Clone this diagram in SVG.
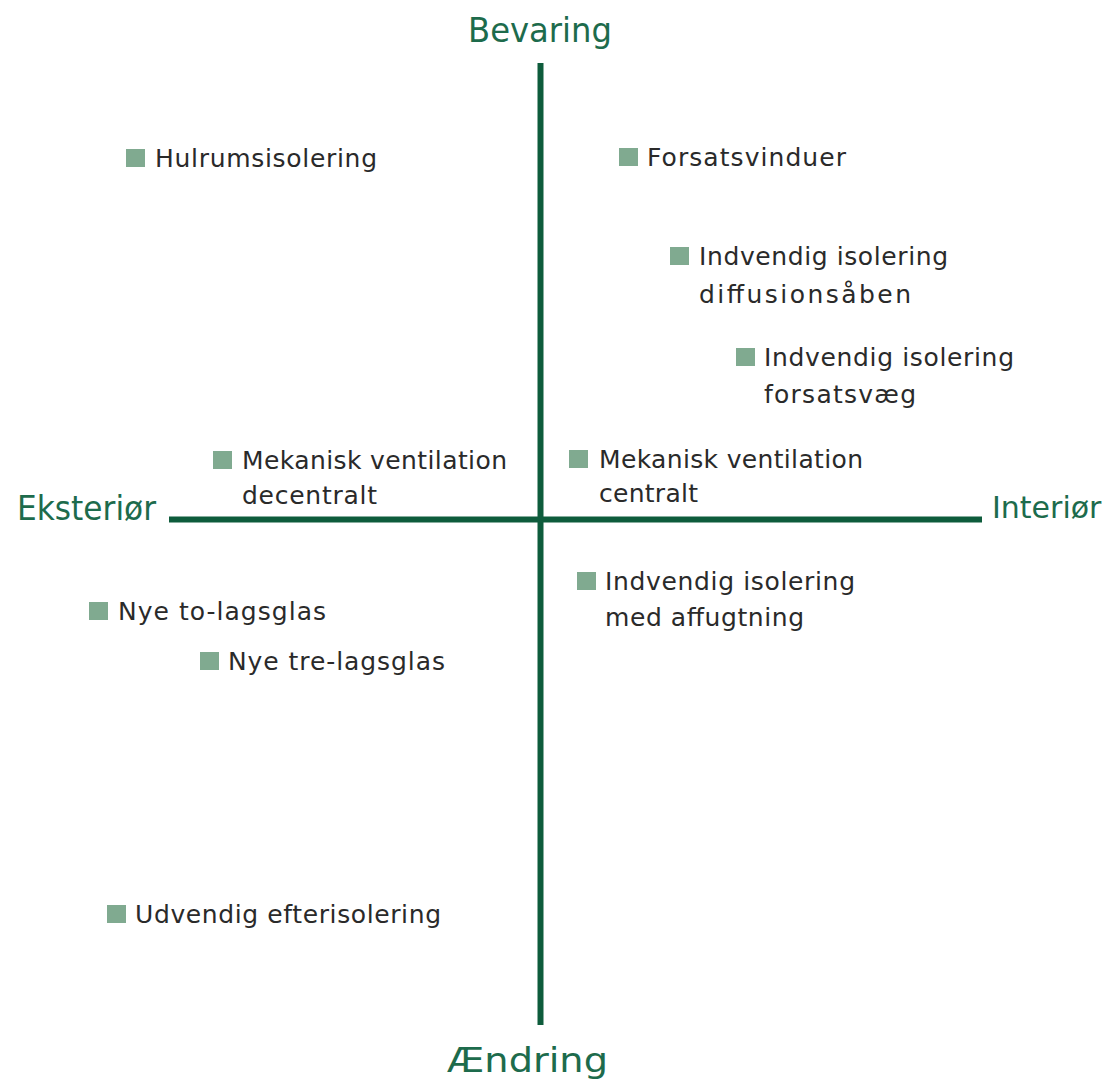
<svg xmlns="http://www.w3.org/2000/svg" width="1111" height="1080" viewBox="0 0 1111 1080">
<style>
.ax{font-family:"DejaVu Sans","Liberation Sans",sans-serif;font-size:33px;fill:#1d6b4c}
.t{font-family:"DejaVu Sans","Liberation Sans",sans-serif;font-size:25px;fill:#2a2a2a}
.sq{fill:#80aa90}
.axis{stroke:#0e5c3c;stroke-width:6;fill:none}
</style>
<rect width="1111" height="1080" fill="#ffffff"/>
<g id="connectors">
<line class="axis" x1="540.5" y1="63" x2="540.5" y2="1025"/>
<line class="axis" x1="169" y1="519.5" x2="982" y2="519.5"/>
</g>
<g id="axis-bevaring"><text class="ax" x="468" y="42" textLength="144" lengthAdjust="spacingAndGlyphs">Bevaring</text></g>
<g id="axis-aendring"><text class="ax" x="447" y="1072" textLength="161" lengthAdjust="spacingAndGlyphs">Ændring</text></g>
<g id="axis-eksterior"><text class="ax" x="17" y="520" textLength="139" lengthAdjust="spacingAndGlyphs">Eksteriør</text></g>
<g id="axis-interior"><text class="ax" x="992" y="518" style="font-size:30px">Interiør</text></g>
<g id="n1"><rect class="sq" x="126" y="149" width="19" height="18"/><text class="t" x="155" y="167" textLength="222">Hulrumsisolering</text></g>
<g id="n2"><rect class="sq" x="619" y="148" width="19" height="18"/><text class="t" x="647" y="166" textLength="199">Forsatsvinduer</text></g>
<g id="n3"><rect class="sq" x="670" y="247" width="19" height="18"/><text class="t" x="699" y="265" textLength="249">Indvendig isolering</text><text class="t" x="699" y="303" textLength="212">diffusionsåben</text></g>
<g id="n4"><rect class="sq" x="736" y="348" width="19" height="18"/><text class="t" x="764" y="366" textLength="250">Indvendig isolering</text><text class="t" x="764" y="403" textLength="152">forsatsvæg</text></g>
<g id="n5"><rect class="sq" x="213" y="451" width="19" height="18"/><text class="t" x="242" y="469" textLength="265">Mekanisk ventilation</text><text class="t" x="242" y="504" textLength="135">decentralt</text></g>
<g id="n6"><rect class="sq" x="569" y="450" width="19" height="18"/><text class="t" x="599" y="468" textLength="264">Mekanisk ventilation</text><text class="t" x="599" y="502" textLength="99">centralt</text></g>
<g id="n7"><rect class="sq" x="577" y="572" width="19" height="18"/><text class="t" x="605" y="590" textLength="250">Indvendig isolering</text><text class="t" x="605" y="626" textLength="199">med affugtning</text></g>
<g id="n8"><rect class="sq" x="89" y="602" width="19" height="18"/><text class="t" x="118" y="620" textLength="208">Nye to-lagsglas</text></g>
<g id="n9"><rect class="sq" x="200" y="652" width="19" height="18"/><text class="t" x="228" y="670" textLength="217">Nye tre-lagsglas</text></g>
<g id="n10"><rect class="sq" x="107" y="905" width="19" height="18"/><text class="t" x="135" y="923" textLength="306">Udvendig efterisolering</text></g>
</svg>
